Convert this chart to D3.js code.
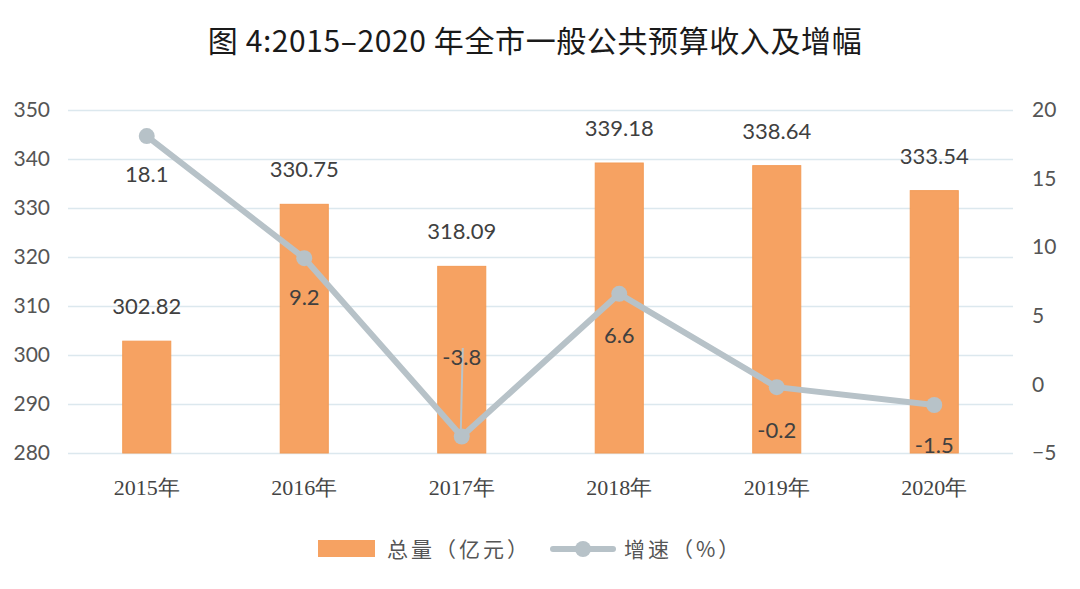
<!DOCTYPE html>
<html><head><meta charset="utf-8">
<script src="https://cdn.jsdelivr.net/npm/d3@7/dist/d3.min.js"></script>
<style>body{margin:0;background:#fff;}</style>
</head><body>
<svg id="c" width="1080" height="589"></svg>
<script>
const categories = ["2015年","2016年","2017年","2018年","2019年","2020年"];
const totals = [302.82, 330.75, 318.09, 339.18, 338.64, 333.54];
const growth = [18.1, 9.2, -3.8, 6.6, -0.2, -1.5];
const leftTicks = [280,290,300,310,320,330,340,350];
const rightTicks = [-5,0,5,10,15,20];

const svg = d3.select("#c");
const L = 68, R = 1013, T = 110, B = 453;
const x = d3.scaleBand().domain(categories).range([L, R]).paddingInner(0.695).paddingOuter(0.3475);
const yL = d3.scaleLinear().domain([280, 350]).range([B, T]);
const yR = d3.scaleLinear().domain([-5, 20]).range([B, T]);
const cx = d => x(d) + x.bandwidth()/2;

// title
svg.append("text").attr("x", 535).attr("y", 52).attr("text-anchor","middle")
  .attr("font-family","'Noto Sans CJK SC'").attr("font-size",30).attr("font-weight",400)
  .attr("letter-spacing",0.6)
  .attr("fill","#1a1a1a").text("图 4:2015–2020 年全市一般公共预算收入及增幅");

// gridlines
const gl = d3.axisLeft(yL).tickValues(leftTicks).tickSize(-(R-L)).tickFormat("");
svg.append("g").attr("transform",`translate(${L},0)`).call(gl)
  .call(g=>g.select(".domain").remove())
  .call(g=>g.selectAll("line").attr("stroke","#dce8ee").attr("stroke-width",1.3));

// left axis labels
svg.append("g").attr("transform",`translate(${L},0)`)
  .call(d3.axisLeft(yL).tickValues(leftTicks).tickSize(0).tickPadding(18))
  .call(g=>g.select(".domain").remove())
  .call(g=>g.selectAll("text").attr("font-family","Lato").attr("font-size",21).attr("fill","#555").attr("x",-18));

// right axis labels
svg.append("g").attr("transform",`translate(${R},0)`)
  .call(d3.axisRight(yR).tickValues(rightTicks).tickSize(0).tickPadding(19))
  .call(g=>g.select(".domain").remove())
  .call(g=>g.selectAll("text").attr("font-family","Lato").attr("font-size",21).attr("fill","#555"));

// x axis labels
svg.append("g").attr("transform",`translate(0,${B})`)
  .call(d3.axisBottom(x).tickSize(0).tickPadding(26))
  .call(g=>g.select(".domain").remove())
  .call(g=>g.selectAll("text").attr("font-family","'Liberation Serif'").attr("font-size",22).attr("fill","#444"));

// bars
svg.append("g").selectAll("rect").data(totals).join("rect")
  .attr("x",(d,i)=>x(categories[i])).attr("width",x.bandwidth())
  .attr("y",d=>yL(d)).attr("height",d=>yL(280)-yL(d))
  .attr("fill","#f6a262").attr("stroke","#f39a55").attr("stroke-width",1);

// bar labels
svg.append("g").selectAll("text").data(totals).join("text")
  .attr("x",(d,i)=>cx(categories[i])).attr("y",d=>yL(d)-27)
  .attr("text-anchor","middle").attr("font-family","Lato").attr("font-size",22).attr("fill","#404040")
  .text(d=>d.toFixed(2));

// leader line for 2017
svg.append("line").attr("x1",cx(categories[2])+1).attr("x2",cx(categories[2])-1)
  .attr("y1",348).attr("y2",yR(growth[2])-4).attr("stroke","#b9c4ca").attr("stroke-width",2);

// line
const line = d3.line().x((d,i)=>cx(categories[i])).y(d=>yR(d));
svg.append("path").datum(growth).attr("d",line).attr("fill","none")
  .attr("stroke","#b7c2c8").attr("stroke-width",6).attr("stroke-linejoin","round");
svg.append("g").selectAll("circle").data(growth).join("circle")
  .attr("cx",(d,i)=>cx(categories[i])).attr("cy",d=>yR(d)).attr("r",8).attr("fill","#b7c2c8");

// line labels
const off = [46, 47, -72, 49, 51, 48];
svg.append("g").selectAll("text").data(growth).join("text")
  .attr("x",(d,i)=>cx(categories[i])).attr("y",(d,i)=>yR(d)+off[i])
  .attr("text-anchor","middle").attr("font-family","Lato").attr("font-size",22).attr("fill","#404040")
  .text(d=>String(d));

// legend
const lg = svg.append("g");
lg.append("rect").attr("x",318).attr("y",540).attr("width",57).attr("height",17).attr("fill","#f6a262");
lg.append("text").attr("x",387).attr("y",557).attr("font-family","'Noto Sans CJK SC'").attr("font-size",21).attr("letter-spacing",3).attr("fill","#555").text("总量（亿元）");
lg.append("line").attr("x1",553).attr("x2",613).attr("y1",549).attr("y2",549).attr("stroke","#b7c2c8").attr("stroke-width",6).attr("stroke-linecap","round");
lg.append("circle").attr("cx",583).attr("cy",549).attr("r",8).attr("fill","#b7c2c8");
lg.append("text").attr("x",624).attr("y",557).attr("font-family","'Noto Sans CJK SC'").attr("font-size",21).attr("letter-spacing",3).attr("fill","#555").text("增速（%）");
</script>
</body></html>
